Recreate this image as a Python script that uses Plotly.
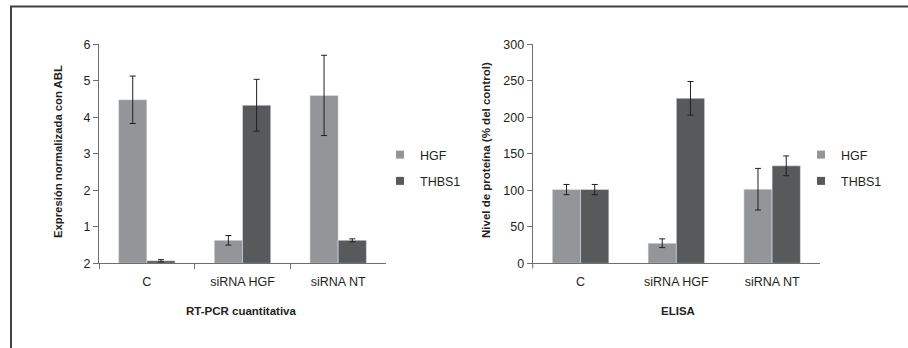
import plotly.graph_objects as go

categories = ["C", "siRNA HGF", "siRNA NT"]

# RT-PCR cuantitativa
pcr_hgf = [4.48, 0.63, 4.60]
pcr_hgf_err = [0.65, 0.13, 1.10]
pcr_thbs1 = [0.07, 4.33, 0.63]
pcr_thbs1_err = [0.03, 0.71, 0.04]
pcr_ticks = [0, 1, 2, 3, 4, 5, 6]
pcr_ticklabels = ["2", "1", "2", "3", "4", "5", "6"]

# ELISA
elisa_hgf = [101, 27.5, 101.5]
elisa_hgf_err = [7, 6, 28.5]
elisa_thbs1 = [101, 226, 133.5]
elisa_thbs1_err = [7, 23, 13.6]
elisa_ticks = [0, 50, 100, 150, 200, 250, 300]

C_HGF = "#939598"
C_THBS1 = "#58595b"
AXIS = "#6d6e70"
TXT = "#231f20"
FONT = "Liberation Sans, Arial, sans-serif"
W, H = 908, 348

def px_x(v):
    return v / W

def px_y(v):
    return 1 - v / H

fig = go.Figure()

def err(a):
    return dict(type="data", array=a, color=TXT, thickness=1, width=3)

fig.add_trace(go.Bar(x=categories, y=pcr_hgf, error_y=err(pcr_hgf_err), marker_color=C_HGF,
                     xaxis="x", yaxis="y", showlegend=False, name="HGF"))
fig.add_trace(go.Bar(x=categories, y=pcr_thbs1, error_y=err(pcr_thbs1_err), marker_color=C_THBS1,
                     xaxis="x", yaxis="y", showlegend=False, name="THBS1"))
fig.add_trace(go.Bar(x=categories, y=elisa_hgf, error_y=err(elisa_hgf_err), marker_color=C_HGF,
                     xaxis="x2", yaxis="y2", showlegend=False, name="HGF"))
fig.add_trace(go.Bar(x=categories, y=elisa_thbs1, error_y=err(elisa_thbs1_err), marker_color=C_THBS1,
                     xaxis="x2", yaxis="y2", showlegend=False, name="THBS1"))

# legend entries
for lg, ax in (("legend", ("x", "y")), ("legend2", ("x2", "y2"))):
    for nm, col in (("HGF", C_HGF), ("THBS1", C_THBS1)):
        fig.add_trace(go.Scatter(x=[None], y=[None], mode="markers", name=nm,
                                 marker=dict(symbol="square", size=8, color=col),
                                 xaxis=ax[0], yaxis=ax[1], legend=lg, legendgroup=lg + nm,
                                 showlegend=True))

ydom = [px_y(263.3), px_y(44.3)]
common_x = dict(type="category", showline=True, linecolor=AXIS, linewidth=1,
                tickfont=dict(family=FONT, size=12.5, color=TXT), showgrid=False,
                range=[-0.5, 2.5], fixedrange=True, automargin=False, ticklabelstandoff=7)
common_y = dict(showline=True, linecolor=AXIS, linewidth=1, ticks="outside", ticklen=5,
                tickcolor=AXIS, tickfont=dict(family=FONT, size=12.5, color=TXT),
                showgrid=False, zeroline=False, domain=ydom, automargin=False)

def ann(text, x, y, size, angle=0):
    return dict(text=text, xref="paper", yref="paper", x=px_x(x), y=px_y(y),
                xanchor="center", yanchor="middle", textangle=angle, showarrow=False,
                font=dict(family=FONT, size=size, color=TXT))

fig.update_layout(
    width=W, height=H, margin=dict(l=0, r=0, t=0, b=0, pad=0, autoexpand=False),
    paper_bgcolor="white", plot_bgcolor="white",
    barmode="group", bargap=0.41, bargroupgap=0,
    font=dict(family=FONT, size=12, color=TXT),
    xaxis=dict(common_x, domain=[px_x(99), px_x(386)], anchor="y",
               ticks="outside", tickson="boundaries", ticklen=5, tickcolor=AXIS),
    yaxis=dict(common_y, anchor="x", range=[0, 6], tickvals=pcr_ticks, ticktext=pcr_ticklabels),
    xaxis2=dict(common_x, domain=[px_x(532.7), px_x(820)], anchor="y2", ticks=""),
    yaxis2=dict(common_y, anchor="x2", range=[0, 300], tickvals=elisa_ticks),
    legend=dict(x=px_x(380), y=px_y(140), xanchor="left", yanchor="top",
                font=dict(family=FONT, size=12.5), tracegroupgap=7, bgcolor="rgba(0,0,0,0)"),
    legend2=dict(x=px_x(801), y=px_y(140), xanchor="left", yanchor="top",
                 font=dict(family=FONT, size=12.5), tracegroupgap=7, bgcolor="rgba(0,0,0,0)"),
    annotations=[
        ann("<b>Expresión normalizada con ABL</b>", 58, 152, 11.3, -90),
        ann("<b>Nivel de proteína (% del control)</b>", 486, 150, 11.5, -90),
        ann("<b>RT-PCR cuantitativa</b>", 241, 311, 11.5),
        ann("<b>ELISA</b>", 678, 311, 11.5),
    ],
    shapes=[
        dict(type="line", xref="paper", yref="paper", x0=px_x(10), x1=1, y0=px_y(6.5), y1=px_y(6.5),
             line=dict(color="#414042", width=2)),
        dict(type="line", xref="paper", yref="paper", x0=px_x(11), x1=px_x(11), y0=px_y(6), y1=0,
             line=dict(color="#414042", width=2)),
        dict(type="line", xref="paper", yref="paper", x0=px_x(532.7), x1=px_x(532.7),
             y0=px_y(263.3), y1=px_y(268.5), line=dict(color=AXIS, width=1)),
    ],
)

fig.write_html("out.html", config={"displayModeBar": False},
               post_script="document.body.style.margin='0';document.body.style.overflow='hidden';")
